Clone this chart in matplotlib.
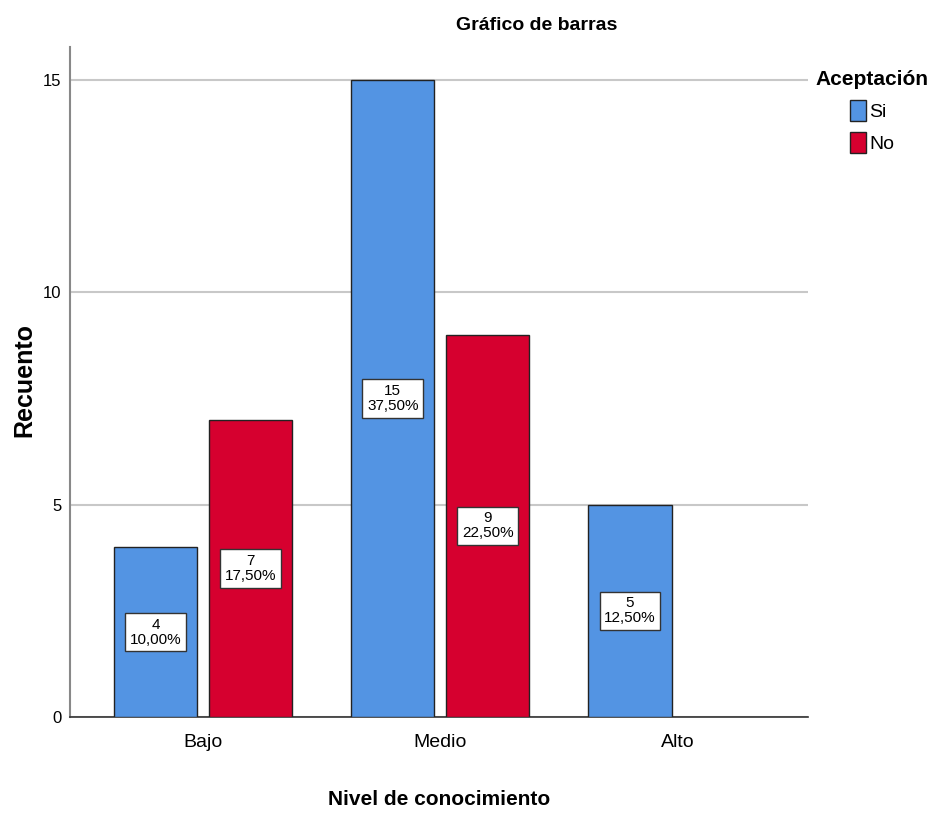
import numpy as np
from matplotlib import pyplot as plt
from matplotlib.patches import Patch

categories = ['Bajo', 'Medio', 'Alto']
series = ['Si', 'No']
si_counts = [4, 15, 5]
no_counts = [7, 9, 0]
si_pct = ['10,00%', '37,50%', '12,50%']
no_pct = ['17,50%', '22,50%', '']
colors = ['#5394E3', '#D6002F']

plt.rcParams['font.family'] = ['Liberation Sans', 'DejaVu Sans']

fig = plt.figure(figsize=(9.34, 8.16), dpi=100, facecolor='w')
ax = fig.add_axes([70 / 934, 1 - 717 / 816, 738 / 934, 670 / 816])

x = np.arange(len(categories))
width = 0.35
off = 0.2

for i, cat in enumerate(categories):
    vals = [si_counts[i], no_counts[i]]
    pcts = [si_pct[i], no_pct[i]]
    for j in range(2):
        v = vals[j]
        if v == 0:
            continue
        xc = x[i] + (-off if j == 0 else off)
        ax.bar(xc, v, width=width, color=colors[j], edgecolor='#222222',
               linewidth=1.0, zorder=3)
        ax.text(xc, v / 2, f'{v}\n{pcts[j]}', ha='center', va='center',
                fontsize=11, linespacing=1.1, zorder=4,
                bbox=dict(boxstyle='square,pad=0.3', fc='white',
                          ec='#333333', lw=1.0))

ax.set_xlim(-0.56, 2.55)
ax.set_ylim(0, 15.78)
ax.set_yticks([0, 5, 10, 15])
ax.set_xticks(x)
ax.set_xticklabels(categories, fontsize=14)
ax.tick_params(axis='y', labelsize=12, length=0, pad=6)
ax.tick_params(axis='x', length=0, pad=12)
ax.yaxis.grid(True, color='#C8C8C8', linewidth=1.5, zorder=0)
ax.set_axisbelow(True)

for s in ['top', 'right']:
    ax.spines[s].set_visible(False)
ax.spines['left'].set_color('#888888')
ax.spines['left'].set_linewidth(1.5)
ax.spines['bottom'].set_color('#333333')
ax.spines['bottom'].set_linewidth(1.2)

fig.text(24 / 934, 1 - 380 / 816, 'Recuento', rotation=90, ha='center',
         va='center', fontsize=18, fontweight='bold')
ax.set_xlabel('Nivel de conocimiento', fontsize=15, fontweight='bold', labelpad=28)
fig.text(537 / 934, 1 - 26 / 816, 'Gráfico de barras', ha='center', va='center',
         fontsize=14, fontweight='bold')

handles = [Patch(facecolor=colors[k], edgecolor='#222222', label=series[k])
           for k in range(2)]
leg = fig.legend(handles=handles, title='Aceptación', loc='upper right',
                 bbox_to_anchor=(940 / 934, 1 - 58 / 816), frameon=False,
                 fontsize=14, title_fontproperties={'weight': 'bold', 'size': 15},
                 handlelength=0.85, handleheight=1.3, handletextpad=0.15,
                 labelspacing=0.55, borderpad=0.1)
leg._legend_box.sep = 8

fig.savefig('out.png', dpi=100)
